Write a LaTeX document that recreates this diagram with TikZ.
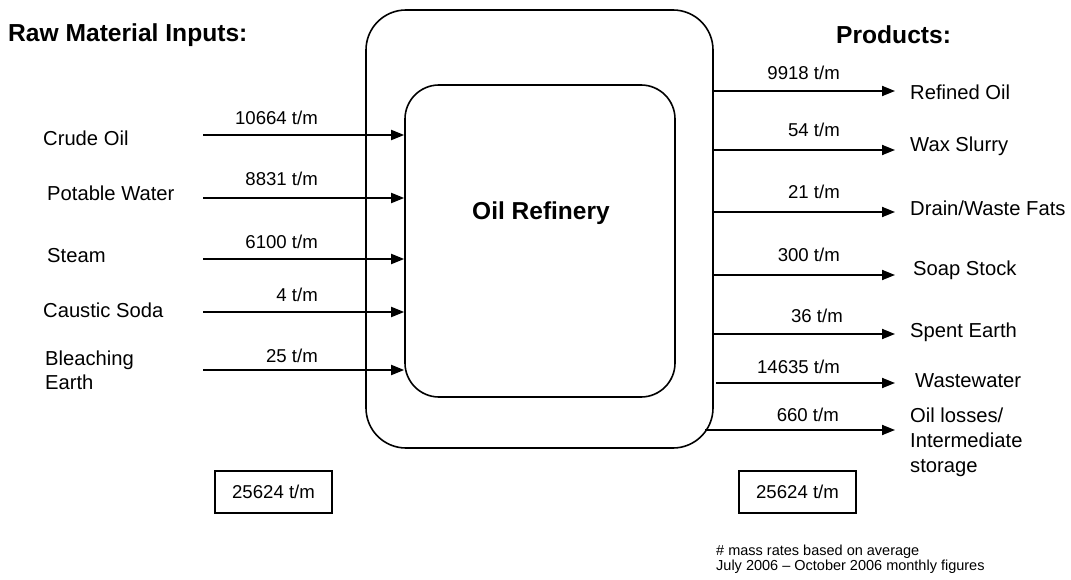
\documentclass[tikz,border=0pt]{standalone}
\usepackage{fontspec}
\setmainfont{Liberation Sans}
\usetikzlibrary{arrows.meta,calc}

\begin{document}
\begin{tikzpicture}[x=1pt,y=-1pt,>={Triangle[length=13pt,width=10pt]},
    lbl/.style={inner sep=0pt,anchor=west,align=left,font=\fontsize{20.2}{24}\selectfont},
    amt/.style={inner sep=0pt,anchor=east,font=\fontsize{18.6}{22}\selectfont},
    head/.style={inner sep=0pt,anchor=west,font=\fontsize{24.6}{28}\selectfont\bfseries},
    flow/.style={->,line width=1.8pt},
    total/.style={draw,line width=1.8pt,minimum width=117pt,minimum height=42pt,inner sep=0pt,font=\fontsize{18.6}{22}\selectfont}]
        \useasboundingbox (0,0) rectangle (1071,580);

        % --- 1. Refinery boxes ---
        \node[draw,line width=1.6pt,rounded corners=40pt,minimum width=347pt,minimum height=438pt] (plant) at (539.5,229) {};
        \node[draw,line width=1.6pt,rounded corners=34pt,minimum width=270pt,minimum height=312pt] (refinery) at (540,241) {};
        \node[inner sep=0pt,font=\fontsize{24.5}{28}\selectfont\bfseries] (title) at (541,213) {Oil Refinery};

        % --- 2. Headings ---
        \node[head] (inhead) at (8,35) {Raw Material Inputs:};
        \node[head] (outhead) at (836,35) {Products:};

        % --- 3. Raw material inputs ---
        \coordinate (crudeS) at (203,135);
        \coordinate (waterS) at (203,198);
        \coordinate (steamS) at (203,259);
        \coordinate (causticS) at (203,312);
        \coordinate (earthS) at (203,370);

        \node[lbl] (crude) at (43,138) {Crude Oil};
        \node[lbl] (water) at (47,193) {Potable Water};
        \node[lbl] (steam) at (47,256) {Steam};
        \node[lbl] (caustic) at (43,310) {Caustic Soda};
        \node[lbl] (earth) at (45,370) {Bleaching\\Earth};

        \draw[flow] (crudeS) -- (crudeS -| refinery.west);
        \draw[flow] (waterS) -- (waterS -| refinery.west);
        \draw[flow] (steamS) -- (steamS -| refinery.west);
        \draw[flow] (causticS) -- (causticS -| refinery.west);
        \draw[flow] (earthS) -- (earthS -| refinery.west);

        \node[amt] (crudeAmt) at (318,118) {10664 t/m};
        \node[amt] (waterAmt) at (318,179) {8831 t/m};
        \node[amt] (steamAmt) at (318,242) {6100 t/m};
        \node[amt] (causticAmt) at (318,295) {4 t/m};
        \node[amt] (earthAmt) at (318,356) {25 t/m};

        % --- 4. Products ---
        \coordinate (refinedE) at (895,91);
        \coordinate (waxE) at (895,150);
        \coordinate (drainE) at (895,212);
        \coordinate (soapE) at (895,275);
        \coordinate (spentE) at (895,334);
        \coordinate (wasteE) at (895,383);
        \coordinate (lossE) at (895,430);
        \coordinate (wasteS) at (716,383);
        \coordinate (lossS) at (705,430);

        \draw[flow] (refinedE -| plant.east) -- (refinedE);
        \draw[flow] (waxE -| plant.east) -- (waxE);
        \draw[flow] (drainE -| plant.east) -- (drainE);
        \draw[flow] (soapE -| plant.east) -- (soapE);
        \draw[flow] (spentE -| plant.east) -- (spentE);
        \draw[flow] (wasteS) -- (wasteE);
        \draw[flow] (lossS) -- (lossE);

        \node[lbl] (refined) at (910,92) {Refined Oil};
        \node[lbl] (wax) at (910,146) {Wax Slurry};
        \node[lbl] (drain) at (910,208) {Drain/Waste Fats};
        \node[lbl] (soap) at (913,270) {Soap Stock};
        \node[lbl] (spent) at (910,332) {Spent Earth};
        \node[lbl] (waste) at (915,381) {Wastewater};
        \node[lbl,font=\fontsize{20.2}{25}\selectfont] (loss) at (910,442) {Oil losses/\\Intermediate\\storage};

        \node[amt] (refinedAmt) at (840,73) {9918 t/m};
        \node[amt] (waxAmt) at (840,130) {54 t/m};
        \node[amt] (drainAmt) at (840,192) {21 t/m};
        \node[amt] (soapAmt) at (840,255) {300 t/m};
        \node[amt] (spentAmt) at (843,316) {36 t/m};
        \node[amt] (wasteAmt) at (840,367) {14635 t/m};
        \node[amt] (lossAmt) at (839,415) {660 t/m};

        % --- 5. Mass balance totals ---
        \node[total] (inTotal) at (273.5,492) {25624 t/m};
        \node[total] (outTotal) at (797.5,492) {25624 t/m};

        % --- 6. Footnote ---
        \node[inner sep=0pt,anchor=west,align=left,font=\fontsize{14.5}{12.8}\selectfont] (note) at (716,559) {\# mass rates based on average\\July 2006 -- October 2006 monthly figures};
    \end{tikzpicture}
\end{document}
